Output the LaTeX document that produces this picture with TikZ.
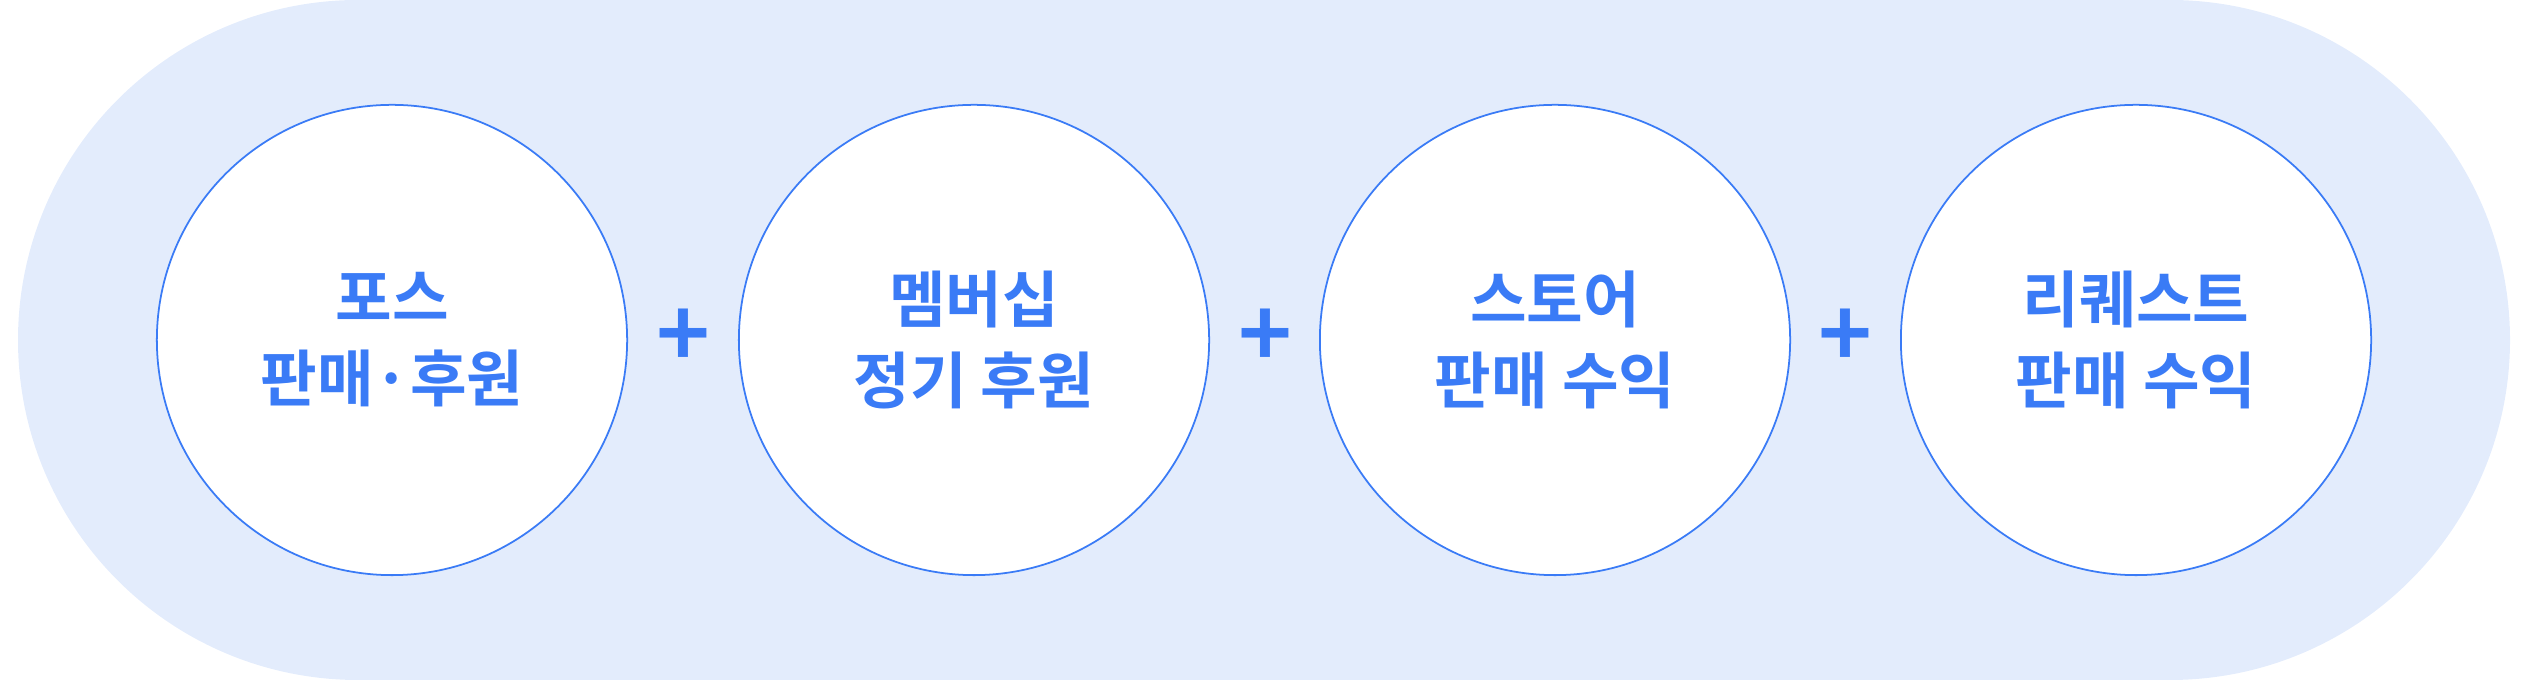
\documentclass[tikz,border=0pt]{standalone}
\usepackage{fontspec}
\newfontfamily\krfont{Noto Sans CJK KR}[BoldFont={Noto Sans CJK KR Bold}]
\usepackage{tikz}
\definecolor{pillbg}{HTML}{E3ECFC}
\definecolor{mainblue}{HTML}{3A7BF6}
\tikzset{
  stage/.style={circle, draw=mainblue, line width=0.5pt, fill=white, minimum size=4.7cm, inner sep=0pt,
    text=mainblue, font=\krfont\bfseries\fontsize{17.5}{23}\selectfont, align=center},
  plussign/.style={text=mainblue, font=\krfont\bfseries\fontsize{26}{26}\selectfont}
}
\begin{document}
\begin{tikzpicture}[x=0.01cm, y=-0.01cm]
        \useasboundingbox (0,0) rectangle (2527,680);
        \fill [pillbg, rounded corners=3.4cm] (18,0) rectangle (2510,680);  % band
        \node [stage] (pos)     at (392,340)  {포스\\판매·후원};
        \node [plussign] (p1)   at (683,338)  {+};
        \node [stage] (member)  at (974,340)  {멤버십\\정기 후원};
        \node [plussign] (p2)   at (1265,338) {+};
        \node [stage] (store)   at (1555,340) {스토어\\판매 수익};
        \node [plussign] (p3)   at (1845,338) {+};
        \node [stage] (request) at (2136,340) {리퀘스트\\판매 수익};
      \end{tikzpicture}
\end{document}
